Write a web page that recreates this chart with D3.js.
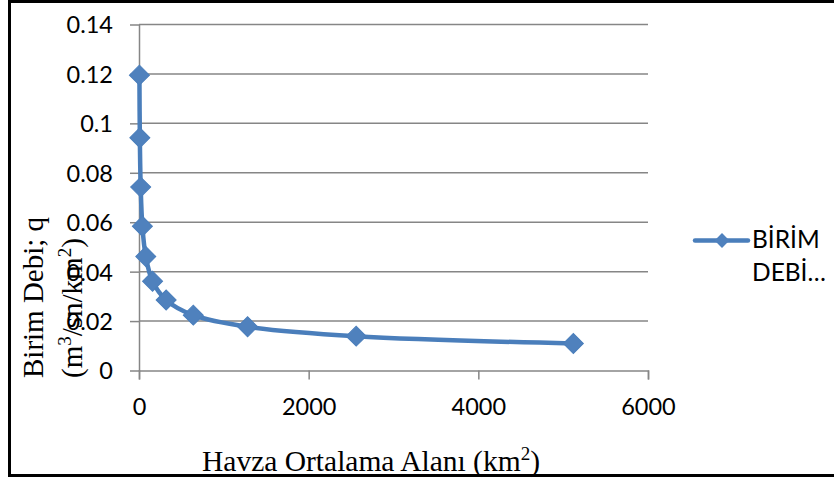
<!DOCTYPE html>
<html>
<head>
<meta charset="utf-8">
<script src="https://cdn.jsdelivr.net/npm/d3@7"></script>
<style>
  html, body { margin: 0; padding: 0; background: #fff; }
  svg { display: block; }
</style>
</head>
<body>
<div id="chart"></div>
<script>
// data
const areas = [5, 10, 20, 40, 80, 160, 320, 640, 1280, 2560, 5120];
const unitFlow = [0.1195, 0.0942, 0.0742, 0.0584, 0.0461, 0.0361, 0.0285, 0.0224, 0.0177, 0.0139, 0.0109];
const xTicks = [0, 2000, 4000, 6000];
const yTicks = [0, 0.02, 0.04, 0.06, 0.08, 0.1, 0.12, 0.14];
const seriesName = ["BİRİM", "DEBİ…"];

const W = 834, H = 479;
const blue = "#4a7ebb";
const grid = "#868686";

const svg = d3.select("#chart").append("svg")
  .attr("width", W)
  .attr("height", H);

// outer frame (right edge falls outside the picture)
svg.append("path")
  .attr("d", "M836,1.5 H9.5 V475.5 H836")
  .attr("fill", "none")
  .attr("stroke", "#000")
  .attr("stroke-width", 3);

const x = d3.scaleLinear().domain([0, 6000]).range([139, 648]);
const y = d3.scaleLinear().domain([0, 0.14]).range([370.5, 24.5]);

// horizontal gridlines
svg.append("g")
  .selectAll("line")
  .data(yTicks.filter(d => d > 0))
  .join("line")
  .attr("x1", x(0)).attr("x2", x(6000))
  .attr("y1", d => y(d)).attr("y2", d => y(d))
  .attr("stroke", grid)
  .attr("stroke-width", 1.5);

const tickFont = "Lato, 'Open Sans', sans-serif";

// y axis
const yAxis = svg.append("g")
  .attr("transform", `translate(${x(0)},0)`)
  .call(d3.axisLeft(y).tickValues(yTicks).tickSize(9).tickSizeOuter(0).tickPadding(17)
    .tickFormat(d => d === 0 ? "0" : String(+d.toFixed(2))));
yAxis.select(".domain").attr("stroke", grid).attr("stroke-width", 1.5);
yAxis.selectAll(".tick line").attr("stroke", grid).attr("stroke-width", 1.5);
yAxis.selectAll("text")
  .attr("fill", "#000")
  .style("font-family", tickFont)
  .style("font-size", "23.5px")
  .attr("dy", "0.36em");

// x axis
const xAxis = svg.append("g")
  .attr("transform", `translate(0,${y(0)})`)
  .call(d3.axisBottom(x).tickValues(xTicks).tickSize(9).tickSizeOuter(9).tickPadding(19)
    .tickFormat(d3.format("d")));
xAxis.select(".domain").attr("stroke", grid).attr("stroke-width", 1.5);
xAxis.selectAll(".tick line").attr("stroke", grid).attr("stroke-width", 1.5);
xAxis.selectAll("text")
  .attr("fill", "#000")
  .style("font-family", tickFont)
  .style("font-size", "23.5px");

// series
const pts = areas.map((a, i) => ({ a, q: unitFlow[i] }));

const line = d3.line()
  .x(d => x(d.a))
  .y(d => y(d.q))
  .curve(d3.curveCatmullRom.alpha(0.5));

svg.append("path")
  .datum(pts)
  .attr("fill", "none")
  .attr("stroke", blue)
  .attr("stroke-width", 4.5)
  .attr("stroke-linejoin", "round")
  .attr("d", line);

const diamond = d3.symbol().type(d3.symbolSquare).size(200);
svg.append("g")
  .selectAll("path")
  .data(pts)
  .join("path")
  .attr("d", diamond)
  .attr("transform", d => `translate(${x(d.a)},${y(d.q)}) rotate(45)`)
  .attr("fill", "#4f81bd")
  .attr("stroke", blue)
  .attr("stroke-width", 1);

// legend
const lg = svg.append("g");
lg.append("line")
  .attr("x1", 695).attr("x2", 748)
  .attr("y1", 240.5).attr("y2", 240.5)
  .attr("stroke", blue)
  .attr("stroke-width", 4.5)
  .attr("stroke-linecap", "round");
lg.append("path")
  .attr("d", d3.symbol().type(d3.symbolSquare).size(110))
  .attr("transform", "translate(722,240.5) rotate(45)")
  .attr("fill", "#4f81bd");
lg.append("text")
  .attr("x", 752)
  .style("font-family", tickFont)
  .style("font-size", "24.5px")
  .attr("fill", "#000")
  .selectAll("tspan")
  .data(seriesName)
  .join("tspan")
  .attr("x", 752)
  .attr("y", (d, i) => 248 + i * 33)
  .text(d => d);

// axis titles
const serif = "'Liberation Serif', 'DejaVu Serif', serif";

const xt = svg.append("text")
  .attr("x", 202)
  .attr("y", 471)
  .style("font-family", serif)
  .style("font-size", "29.5px")
  .attr("fill", "#000");
xt.append("tspan").text("Havza Ortalama Alanı (km");
xt.append("tspan").attr("dy", -11).style("font-size", "19px").text("2");
xt.append("tspan").attr("dy", 11).text(")");

svg.append("text")
  .attr("transform", "translate(43,378) rotate(-90)")
  .style("font-family", serif)
  .style("font-size", "29px")
  .attr("fill", "#000")
  .text("Birim Debi; q");

const yt2 = svg.append("text")
  .attr("transform", "translate(82,378) rotate(-90)")
  .style("font-family", serif)
  .style("font-size", "29px")
  .attr("fill", "#000");
yt2.append("tspan").text("(m");
yt2.append("tspan").attr("dy", -11).style("font-size", "19px").text("3");
yt2.append("tspan").attr("dy", 11).text("/sn/km");
yt2.append("tspan").attr("dy", -11).style("font-size", "19px").text("2");
yt2.append("tspan").attr("dy", 11).text(")");
</script>
</body>
</html>
